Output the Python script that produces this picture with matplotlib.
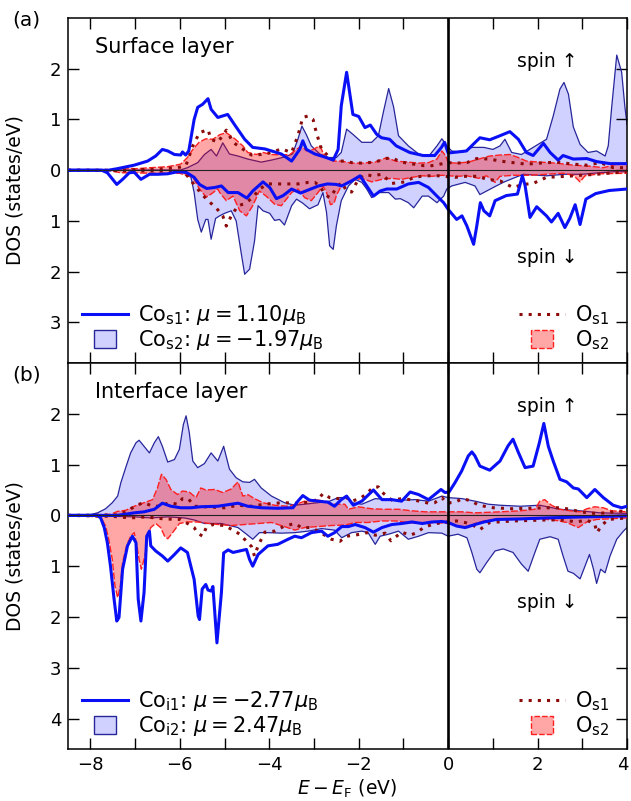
import numpy as np
import matplotlib
matplotlib.use("Agg")
import matplotlib.pyplot as plt
import matplotlib.patches as mpatches
import matplotlib.transforms as mtransforms
from matplotlib.lines import Line2D
from matplotlib.legend_handler import HandlerPatch

# ---------------- data: (E - E_F [eV], DOS [states/eV]); spin-down stored negative -------------
# Panel (a) surface layer
co1a_up = [(-8.5,0),(-7.6,0),(-7.4,0.03),(-7.02,0.10),(-6.72,0.18),(-6.54,0.28),(-6.39,0.41),(-6.27,0.38),
           (-6.12,0.31),(-5.98,0.30),(-5.94,0.36),(-5.87,0.30),(-5.8,0.38),(-5.68,1.0),(-5.6,1.24),(-5.49,1.30),
           (-5.37,1.41),(-5.3,1.2),(-5.15,1.04),(-4.93,1.1),(-4.77,0.89),(-4.55,0.61),(-4.37,0.45),(-4.1,0.42),
           (-3.95,0.38),(-3.73,0.32),(-3.5,0.18),(-3.32,0.41),(-3.25,0.58),(-3.17,0.41),(-2.98,0.32),(-2.76,0.26),
           (-2.57,0.20),(-2.46,0.41),(-2.39,1.27),(-2.27,1.93),(-2.13,1.1),(-2.0,1.06),(-1.86,0.84),(-1.74,0.89),
           (-1.6,0.71),(-1.49,0.64),(-1.31,0.61),(-1.16,0.48),(-0.86,0.35),(-0.56,0.29),(-0.3,0.29),(-0.15,0.45),
           (-0.08,0.55),(0.0,0.34),(0.11,0.35),(0.41,0.38),(0.71,0.64),(0.93,0.6),(1.16,0.68),(1.38,0.76),
           (1.57,0.61),(1.75,0.35),(1.9,0.29),(2.13,0.53),(2.28,0.35),(2.46,0.2),(2.57,0.29),(2.8,0.22),
           (3.1,0.23),(3.32,0.17),(3.62,0.13),(4.0,0.13)]
co1a_dn = [(-8.5,0),(-7.75,0),(-7.62,-0.05),(-7.41,-0.28),(-7.28,-0.18),(-7.13,-0.05),(-7.02,-0.04),(-6.87,-0.18),
           (-6.68,-0.08),(-6.5,-0.08),(-6.27,-0.07),(-6.05,-0.03),(-5.86,-0.04),(-5.68,-0.14),(-5.56,-0.28),
           (-5.4,-0.36),(-5.22,-0.34),(-5.07,-0.31),(-4.92,-0.44),(-4.7,-0.44),(-4.5,-0.55),(-4.37,-0.41),
           (-4.14,-0.23),(-3.99,-0.34),(-3.84,-0.56),(-3.69,-0.5),(-3.5,-0.37),(-3.3,-0.45),(-3.1,-0.38),
           (-2.9,-0.31),(-2.7,-0.27),(-2.5,-0.28),(-2.38,-0.31),(-2.16,-0.21),(-1.97,-0.11),(-1.82,-0.31),
           (-1.67,-0.51),(-1.52,-0.41),(-1.37,-0.37),(-1.15,-0.37),(-0.89,-0.27),(-0.66,-0.24),(-0.44,-0.34),
           (-0.25,-0.51),(-0.1,-0.64),(0.0,-0.77),(0.19,-0.97),(0.31,-0.90),(0.42,-1.10),(0.57,-1.46),(0.64,-1.1),
           (0.72,-0.64),(0.8,-0.8),(0.93,-0.9),(1.05,-0.6),(1.3,-0.5),(1.55,-0.47),(1.66,-0.11),(1.72,-0.3),
           (1.83,-0.93),(1.98,-0.72),(2.2,-0.9),(2.31,-1.02),(2.46,-0.85),(2.61,-1.13),(2.72,-0.95),(2.84,-0.68),
           (2.95,-1.07),(3.08,-0.57),(3.3,-0.46),(3.6,-0.4),(4.0,-0.37)]
co2a_up = [(-8.5,0),(-6.0,0.0),(-5.83,0.05),(-5.6,0.15),(-5.45,0.31),(-5.3,0.41),(-5.18,0.28),(-5.04,0.54),
           (-4.89,0.32),(-4.7,0.28),(-4.48,0.22),(-4.18,0.16),(-3.95,0.20),(-3.66,0.26),(-3.48,0.32),(-3.36,0.61),
           (-3.27,0.87),(-3.17,0.70),(-3.06,0.48),(-2.87,0.32),(-2.68,0.25),(-2.5,0.25),(-2.39,0.35),(-2.27,0.81),
           (-2.12,0.70),(-1.93,0.55),(-1.71,0.55),(-1.56,0.68),(-1.45,1.14),(-1.33,1.61),(-1.22,1.25),(-1.11,0.68),
           (-0.89,0.48),(-0.66,0.32),(-0.44,0.27),(-0.25,0.48),(-0.14,0.62),(-0.03,0.48),(0.08,0.38),(0.31,0.35),
           (0.53,0.45),(0.8,0.45),(1.0,0.41),(1.16,0.48),(1.27,0.61),(1.42,0.35),(1.64,0.31),(1.9,0.45),(2.2,0.61),
           (2.35,1.07),(2.5,1.60),(2.59,1.73),(2.69,1.5),(2.8,0.85),(2.95,0.51),(3.13,0.35),(3.32,0.38),(3.51,0.28),
           (3.58,0.48),(3.66,1.27),(3.77,2.27),(3.88,1.93),(3.95,1.27),(4.0,0.9)]
co2a_dn = [(-8.5,0),(-6.0,0),(-5.75,-0.14),(-5.68,-0.44),(-5.6,-0.97),(-5.52,-1.22),(-5.42,-0.97),(-5.37,-0.97),
           (-5.3,-1.36),(-5.2,-0.95),(-5.11,-0.9),(-5.0,-0.85),(-4.85,-0.8),(-4.74,-1.0),(-4.63,-1.62),(-4.55,-2.05),
           (-4.44,-1.95),(-4.33,-1.4),(-4.25,-0.7),(-4.14,-0.8),(-3.99,-0.85),(-3.88,-0.99),(-3.77,-0.97),
           (-3.66,-1.08),(-3.5,-0.7),(-3.39,-0.57),(-3.25,-0.65),(-3.1,-0.76),(-2.91,-0.68),(-2.8,-0.44),
           (-2.72,-0.83),(-2.65,-1.49),(-2.57,-1.56),(-2.5,-1.1),(-2.39,-0.6),(-2.23,-0.31),(-2.08,-0.18),
           (-1.93,-0.24),(-1.82,-0.37),(-1.71,-0.54),(-1.56,-0.44),(-1.33,-0.44),(-1.18,-0.57),(-1.07,-0.56),
           (-0.89,-0.64),(-0.77,-0.74),(-0.58,-0.51),(-0.44,-0.51),(-0.25,-0.64),(-0.1,-0.51),(-0.03,-0.37),
           (0.08,-0.31),(0.38,-0.24),(0.6,-0.31),(0.71,-0.48),(0.86,-0.41),(1.01,-0.34),(1.23,-0.24),(1.45,-0.16),
           (1.68,-0.08),(2.2,-0.11),(2.6,-0.08),(3.0,-0.08),(3.25,-0.06),(3.7,-0.03),(4.0,-0.03)]
o1a_up = [(-8.5,0),(-7.5,0.0),(-6.5,0.02),(-6.0,0.06),(-5.86,0.1),(-5.71,0.48),(-5.56,0.74),(-5.37,0.8),
          (-5.3,0.61),(-5.15,0.55),(-4.96,0.79),(-4.81,0.55),(-4.63,0.44),(-4.4,0.30),(-4.18,0.31),(-3.95,0.35),
          (-3.73,0.42),(-3.5,0.35),(-3.36,0.68),(-3.25,1.04),(-3.13,1.07),(-3.02,1.0),(-2.95,0.75),(-2.83,0.41),
          (-2.68,0.28),(-2.5,0.18),(-2.27,0.18),(-2.16,0.15),(-1.93,0.14),(-1.63,0.16),(-1.41,0.23),(-1.26,0.24),
          (-1.04,0.16),(-0.77,0.12),(-0.55,0.09),(-0.36,0.09),(-0.18,0.12),(0.0,0.15),(0.19,0.14),(0.42,0.15),
          (0.64,0.23),(0.93,0.22),(1.16,0.18),(1.45,0.15),(1.75,0.12),(2.05,0.14),(2.42,0.16),(2.8,0.12),
          (3.1,0.10),(3.4,0.15),(3.69,0.05),(4.0,0.05)]
o1a_dn = [(-8.5,0),(-6.0,-0.02),(-5.86,-0.08),(-5.63,-0.34),(-5.48,-0.5),(-5.33,-0.63),(-5.18,-0.75),(-5.04,-0.9),
          (-4.96,-1.1),(-4.85,-0.9),(-4.7,-0.7),(-4.55,-0.66),(-4.37,-0.54),(-4.22,-0.37),(-4.03,-0.27),
          (-3.8,-0.27),(-3.58,-0.27),(-3.36,-0.27),(-3.13,-0.24),(-2.98,-0.24),(-2.87,-0.31),(-2.76,-0.47),
          (-2.65,-0.54),(-2.46,-0.31),(-2.38,-0.24),(-2.27,-0.41),(-2.16,-0.43),(-2.01,-0.18),(-1.86,-0.08),
          (-1.71,-0.11),(-1.48,-0.08),(-1.26,-0.26),(-0.96,-0.23),(-0.77,-0.14),(-0.51,-0.11),(-0.21,-0.11),
          (0.15,-0.14),(0.38,-0.12),(0.68,-0.12),(0.86,-0.18),(1.16,-0.21),(1.45,-0.34),(1.68,-0.28),(1.9,-0.26),
          (2.2,-0.14),(2.65,-0.12),(2.95,-0.10),(3.32,-0.08),(3.69,-0.05),(4.0,-0.03)]
o2a_up = [(-8.5,0),(-7.55,0.0),(-7.32,0.05),(-7.0,0.03),(-6.65,0.05),(-6.27,0.07),(-5.98,0.12),(-5.83,0.25),
          (-5.71,0.41),(-5.57,0.55),(-5.42,0.62),(-5.26,0.61),(-5.11,0.70),(-4.96,0.74),(-4.77,0.62),(-4.59,0.48),
          (-4.48,0.35),(-4.29,0.31),(-4.14,0.35),(-3.95,0.31),(-3.73,0.3),(-3.54,0.31),(-3.39,0.41),(-3.28,0.48),
          (-3.17,0.38),(-3.02,0.41),(-2.87,0.48),(-2.76,0.28),(-2.57,0.18),(-2.39,0.18),(-2.16,0.14),(-1.93,0.14),
          (-1.63,0.16),(-1.37,0.25),(-1.18,0.18),(-0.89,0.16),(-0.66,0.14),(-0.44,0.15),(-0.25,0.22),(-0.14,0.38),
          (-0.05,0.28),(0.0,0.15),(0.19,0.14),(0.45,0.16),(0.68,0.22),(0.93,0.28),(1.16,0.3),(1.38,0.31),
          (1.57,0.25),(1.75,0.18),(2.05,0.16),(2.42,0.14),(2.8,0.10),(3.17,0.08),(3.47,0.05),(3.77,0.12),(4.0,0.14)]
o2a_dn = [(-8.5,0),(-7.55,-0.01),(-7.32,-0.05),(-6.5,-0.06),(-6.0,-0.06),(-5.83,-0.11),(-5.71,-0.14),(-5.56,-0.37),
          (-5.41,-0.53),(-5.3,-0.47),(-5.15,-0.37),(-5.11,-0.44),(-4.96,-0.6),(-4.81,-0.51),(-4.66,-0.80),
          (-4.51,-0.90),(-4.37,-0.7),(-4.22,-0.41),(-4.07,-0.51),(-3.88,-0.67),(-3.73,-0.7),(-3.5,-0.44),
          (-3.36,-0.37),(-3.21,-0.54),(-3.06,-0.6),(-2.91,-0.44),(-2.8,-0.31),(-2.72,-0.44),(-2.63,-0.68),
          (-2.55,-0.65),(-2.5,-0.5),(-2.39,-0.31),(-2.16,-0.21),(-1.93,-0.16),(-1.71,-0.23),(-1.48,-0.18),
          (-1.26,-0.16),(-1.04,-0.18),(-0.81,-0.14),(-0.58,-0.11),(-0.36,-0.12),(-0.14,-0.10),(0.19,-0.12),
          (0.42,-0.11),(0.68,-0.16),(0.86,-0.11),(1.05,-0.24),(1.16,-0.12),(1.45,-0.10),(1.83,-0.10),(2.2,-0.08),
          (2.57,-0.06),(2.8,-0.1),(2.95,-0.23),(3.06,-0.11),(3.4,-0.07),(4.0,-0.06)]

# Panel (b) interface layer
co1b_up = [(-8.5,0),(-7.4,0.0),(-7.24,0.02),(-7.02,0.05),(-6.8,0.07),(-6.57,0.12),(-6.39,0.24),(-6.2,0.18),
           (-5.98,0.15),(-5.75,0.15),(-5.53,0.17),(-5.15,0.18),(-4.7,0.24),(-4.48,0.18),(-4.18,0.15),(-3.81,0.14),
           (-3.47,0.15),(-3.36,0.28),(-3.25,0.39),(-3.1,0.30),(-2.91,0.28),(-2.69,0.26),(-2.54,0.18),(-2.39,0.31),
           (-2.27,0.38),(-2.12,0.2),(-1.93,0.28),(-1.67,0.5),(-1.48,0.31),(-1.26,0.31),(-1.04,0.28),(-0.85,0.46),
           (-0.66,0.41),(-0.44,0.31),(-0.3,0.41),(-0.16,0.51),(-0.07,0.45),(0.02,0.46),(0.15,0.64),(0.3,0.87),
           (0.45,1.17),(0.53,1.25),(0.6,1.17),(0.71,0.97),(0.93,0.89),(1.16,1.07),(1.34,1.37),(1.45,1.5),
           (1.57,1.24),(1.72,0.94),(1.9,0.97),(2.04,1.43),(2.14,1.81),(2.24,1.36),(2.35,1.07),(2.5,0.71),
           (2.65,0.66),(2.8,0.54),(2.91,0.52),(3.1,0.35),(3.28,0.51),(3.47,0.35),(3.69,0.2),(3.88,0.15),(4.0,0.18)]
co1b_dn = [(-8.5,0),(-7.84,0),(-7.77,-0.05),(-7.69,-0.24),(-7.62,-0.54),(-7.55,-1.0),(-7.47,-1.65),(-7.41,-2.08),
           (-7.36,-2.01),(-7.28,-1.06),(-7.17,-0.6),(-7.06,-0.41),(-6.98,-0.54),(-6.93,-1.65),(-6.87,-2.08),
           (-6.8,-1.52),(-6.74,-0.41),(-6.68,-0.31),(-6.65,-0.6),(-6.54,-0.7),(-6.39,-0.8),(-6.27,-0.9),
           (-6.12,-0.77),(-5.98,-0.64),(-5.83,-0.73),(-5.68,-1.26),(-5.59,-1.98),(-5.56,-2.05),(-5.5,-1.45),
           (-5.42,-1.36),(-5.37,-1.47),(-5.3,-1.49),(-5.26,-1.4),(-5.17,-2.51),(-5.07,-1.52),(-5.02,-0.74),
           (-4.92,-0.68),(-4.81,-0.73),(-4.66,-0.7),(-4.51,-0.67),(-4.44,-0.87),(-4.37,-1.0),(-4.25,-0.77),
           (-4.03,-0.6),(-3.81,-0.57),(-3.58,-0.47),(-3.43,-0.41),(-3.28,-0.44),(-3.06,-0.34),(-2.83,-0.31),
           (-2.69,-0.41),(-2.54,-0.34),(-2.38,-0.22),(-2.23,-0.22),(-2.08,-0.18),(-1.86,-0.24),(-1.67,-0.33),
           (-1.48,-0.24),(-1.26,-0.18),(-1.04,-0.16),(-0.81,-0.13),(-0.58,-0.16),(-0.36,-0.13),(-0.14,-0.12),
           (0.0,-0.14),(0.19,-0.21),(0.38,-0.24),(0.6,-0.18),(0.8,-0.13),(1.08,-0.08),(1.6,-0.07),(2.2,-0.05),
           (3.0,-0.03),(4.0,-0.01)]
co2b_up = [(-8.5,0),(-8.07,0.0),(-7.84,0.05),(-7.66,0.13),(-7.51,0.25),(-7.39,0.38),(-7.32,0.64),(-7.21,0.94),
           (-7.1,1.23),(-6.98,1.43),(-6.91,1.48),(-6.8,1.36),(-6.68,1.23),(-6.57,1.43),(-6.48,1.55),(-6.39,1.36),
           (-6.27,1.05),(-6.12,1.10),(-6.01,1.3),(-5.92,1.79),(-5.86,1.96),(-5.79,1.64),(-5.71,1.07),(-5.6,0.94),
           (-5.45,1.02),(-5.3,1.23),(-5.15,1.07),(-5.02,1.36),(-4.89,0.91),(-4.74,0.74),(-4.59,0.66),(-4.44,0.65),
           (-4.33,0.71),(-4.18,0.54),(-3.95,0.38),(-3.66,0.25),(-3.43,0.2),(-3.21,0.22),(-2.91,0.25),(-2.65,0.28),
           (-2.46,0.35),(-2.27,0.35),(-2.16,0.25),(-1.93,0.22),(-1.63,0.33),(-1.33,0.31),(-1.04,0.30),(-0.74,0.31),
           (-0.44,0.28),(-0.14,0.38),(0.0,0.35),(0.31,0.33),(0.6,0.28),(0.9,0.22),(1.16,0.2),(1.61,0.18),
           (2.05,0.2),(2.5,0.12),(2.95,0.09),(3.4,0.05),(4.0,0.04)]
co2b_dn = [(-8.5,0),(-7.4,-0.02),(-7.0,-0.03),(-6.65,-0.05),(-6.27,-0.03),(-5.9,-0.05),(-5.68,-0.09),(-5.45,-0.16),
           (-5.07,-0.16),(-4.7,-0.24),(-4.51,-0.37),(-4.37,-0.47),(-4.22,-0.34),(-4.03,-0.34),(-3.73,-0.35),
           (-3.43,-0.34),(-3.13,-0.31),(-2.83,-0.26),(-2.54,-0.29),(-2.38,-0.44),(-2.16,-0.34),(-1.93,-0.31),
           (-1.79,-0.34),(-1.63,-0.57),(-1.52,-0.41),(-1.33,-0.37),(-1.11,-0.31),(-0.89,-0.47),(-0.66,-0.41),
           (-0.44,-0.34),(-0.14,-0.35),(0.0,-0.41),(0.22,-0.37),(0.42,-0.44),(0.53,-0.73),(0.64,-1.06),(0.71,-1.13),
           (0.86,-0.93),(1.05,-0.70),(1.23,-0.66),(1.45,-0.73),(1.64,-0.96),(1.79,-1.10),(1.94,-0.73),(2.05,-0.47),
           (2.28,-0.42),(2.46,-0.47),(2.57,-0.8),(2.68,-1.1),(2.8,-1.14),(2.95,-1.25),(3.06,-1.0),(3.16,-0.77),
           (3.25,-1.06),(3.32,-1.34),(3.41,-1.06),(3.51,-1.13),(3.62,-0.8),(3.77,-0.47),(3.92,-0.31),(4.0,-0.24)]
o1b_up = [(-8.5,0),(-7.4,0.01),(-7.17,0.08),(-6.98,0.2),(-6.8,0.25),(-6.61,0.18),(-6.43,0.18),(-6.24,0.25),
          (-6.05,0.22),(-5.94,0.33),(-5.81,0.33),(-5.68,0.18),(-5.45,0.17),(-5.0,0.15),(-4.7,0.2),(-4.4,0.18),
          (-4.1,0.22),(-3.88,0.24),(-3.66,0.25),(-3.43,0.24),(-3.21,0.25),(-3.06,0.28),(-2.91,0.31),(-2.8,0.43),
          (-2.65,0.35),(-2.46,0.33),(-2.27,0.35),(-2.16,0.28),(-1.97,0.33),(-1.82,0.43),(-1.67,0.56),(-1.56,0.56),
          (-1.47,0.45),(-1.26,0.30),(-1.04,0.33),(-0.85,0.31),(-0.63,0.28),(-0.44,0.24),(-0.3,0.25),(-0.14,0.35),
          (-0.03,0.24),(0.15,0.26),(0.33,0.33),(0.53,0.28),(0.68,0.20),(1.01,0.15),(1.45,0.13),(2.2,0.15),
          (2.5,0.15),(2.73,0.12),(2.95,0.07),(3.25,0.04),(3.6,0.05),(3.77,0.09),(4.0,0.07)]
o1b_dn = [(-8.5,0),(-7.5,-0.02),(-7.1,-0.05),(-6.76,-0.03),(-6.35,-0.07),(-5.98,-0.08),(-5.79,-0.18),(-5.68,-0.24),
          (-5.6,-0.35),(-5.49,-0.41),(-5.41,-0.24),(-5.26,-0.18),(-5.0,-0.2),(-4.81,-0.29),(-4.66,-0.37),
          (-4.51,-0.51),(-4.4,-0.61),(-4.33,-0.80),(-4.25,-0.6),(-4.1,-0.33),(-3.88,-0.31),(-3.66,-0.21),
          (-3.43,-0.16),(-3.28,-0.24),(-3.06,-0.24),(-2.87,-0.33),(-2.61,-0.47),(-2.42,-0.51),(-2.27,-0.41),
          (-2.08,-0.39),(-1.82,-0.34),(-1.63,-0.39),(-1.41,-0.35),(-1.28,-0.5),(-1.04,-0.33),(-0.85,-0.39),
          (-0.7,-0.34),(-0.55,-0.24),(-0.36,-0.18),(-0.14,-0.14),(0.19,-0.11),(0.38,-0.14),(0.57,-0.2),
          (0.71,-0.28),(0.93,-0.14),(1.45,-0.11),(2.2,-0.09),(2.57,-0.09),(2.87,-0.13),(3.1,-0.09),(3.28,-0.18),
          (3.33,-0.34),(3.43,-0.2),(3.58,-0.08),(4.0,-0.05)]
o2b_up = [(-8.5,0),(-7.55,0.02),(-7.39,0.08),(-7.21,0.1),(-7.02,0.18),(-6.8,0.25),(-6.61,0.31),(-6.5,0.54),
          (-6.41,0.81),(-6.31,0.71),(-6.2,0.51),(-6.05,0.41),(-5.94,0.48),(-5.79,0.46),(-5.64,0.35),(-5.53,0.54),
          (-5.42,0.5),(-5.22,0.51),(-5.04,0.45),(-4.85,0.52),(-4.7,0.66),(-4.59,0.38),(-4.48,0.41),(-4.33,0.33),
          (-4.14,0.25),(-3.88,0.2),(-3.58,0.18),(-3.39,0.22),(-3.21,0.28),(-2.98,0.31),(-2.76,0.28),(-2.57,0.22),
          (-2.31,0.22),(-2.23,0.12),(-2.01,0.17),(-1.71,0.13),(-1.41,0.12),(-1.11,0.12),(-0.81,0.09),(-0.51,0.07),
          (-0.21,0.07),(0.31,0.07),(0.6,0.05),(1.16,0.07),(1.61,0.09),(1.94,0.12),(2.05,0.28),(2.16,0.31),
          (2.31,0.2),(2.5,0.12),(2.73,0.09),(2.95,0.07),(3.1,0.13),(3.28,0.17),(3.47,0.15),(3.66,0.09),(4.0,0.07)]
o2b_dn = [(-8.5,0),(-7.77,-0.03),(-7.66,-0.21),(-7.59,-0.47),(-7.51,-0.87),(-7.45,-1.39),(-7.39,-1.62),
          (-7.33,-1.39),(-7.28,-0.93),(-7.19,-0.6),(-7.1,-0.41),(-7.02,-0.34),(-6.96,-0.6),(-6.91,-0.87),
          (-6.86,-1.06),(-6.78,-0.80),(-6.72,-0.41),(-6.65,-0.24),(-6.54,-0.16),(-6.43,-0.24),(-6.34,-0.41),
          (-6.27,-0.46),(-6.16,-0.34),(-6.01,-0.16),(-5.83,-0.13),(-5.6,-0.13),(-5.15,-0.18),(-4.85,-0.2),
          (-4.55,-0.18),(-4.25,-0.16),(-3.95,-0.14),(-3.66,-0.22),(-3.43,-0.29),(-3.21,-0.24),(-2.91,-0.22),
          (-2.61,-0.2),(-2.3,-0.19),(-2.08,-0.14),(-1.79,-0.14),(-1.48,-0.11),(-1.18,-0.11),(-0.89,-0.14),
          (-0.58,-0.16),(-0.3,-0.14),(0.0,-0.16),(0.22,-0.21),(0.45,-0.24),(0.6,-0.16),(0.8,-0.11),(1.16,-0.08),
          (1.61,-0.08),(2.05,-0.07),(2.35,-0.09),(2.65,-0.14),(2.91,-0.24),(3.1,-0.13),(3.32,-0.08),(4.0,-0.05)]

labels_a = [r"Co$_{\mathrm{s1}}$: $\mu = 1.10\mu_{\mathrm{B}}$", r"Co$_{\mathrm{s2}}$: $\mu = -1.97\mu_{\mathrm{B}}$",
            r"O$_{\mathrm{s1}}$", r"O$_{\mathrm{s2}}$"]
labels_b = [r"Co$_{\mathrm{i1}}$: $\mu = -2.77\mu_{\mathrm{B}}$", r"Co$_{\mathrm{i2}}$: $\mu = 2.47\mu_{\mathrm{B}}$",
            r"O$_{\mathrm{s1}}$", r"O$_{\mathrm{s2}}$"]
titles = ["Surface layer", "Interface layer"]
panel_tags = ["(a)", "(b)"]
xticks = [-8, -6, -4, -2, 0, 2, 4]

# ---------------- styles ----------------
C_CO1 = "#0a10f5"
C_CO2_FACE = (0.0, 0.0, 1.0, 0.18)
C_CO2_EDGE = "#26269a"
C_O1 = "#8b0a0a"
C_O2_FACE = (1.0, 0.0, 0.0, 0.35)
C_O2_EDGE = "#ff2020"
FS_TICK = 13
FS_LAB = 13.5
FS_TXT = 15
O1_STYLE = (0, (1, 2.0))

plt.rcParams["font.family"] = ["DejaVu Sans"]
plt.rcParams["mathtext.fontset"] = "dejavusans"

fig = plt.figure(figsize=(6.31, 8.01), dpi=100)
L, W = 0.1078, 0.8859
ax_a = fig.add_axes([L, 0.5468, W, 0.4307])
ax_b = fig.add_axes([L, 0.0649, W, 0.4819])


def arr(pairs):
    a = np.array(pairs, dtype=float)
    return a[:, 0], a[:, 1]


def draw(ax, co1u, co1d, co2u, co2d, o1u, o1d, o2u, o2d):
    for c in (co2u, co2d):
        e, v = arr(c)
        ax.fill_between(e, 0, v, facecolor=C_CO2_FACE, edgecolor="none", zorder=1)
        ax.plot(e, v, color=C_CO2_EDGE, lw=0.9, zorder=2)
    for c in (o2u, o2d):
        e, v = arr(c)
        ax.fill_between(e, 0, v, facecolor=C_O2_FACE, edgecolor="none", zorder=3)
        ax.plot(e, v, color=C_O2_EDGE, lw=1.0, dashes=(5, 1.5), zorder=4)
    for c in (o1u, o1d):
        e, v = arr(c)
        ax.plot(e, v, color=C_O1, lw=2.2, linestyle=O1_STYLE, zorder=5)
    for c in (co1u, co1d):
        e, v = arr(c)
        ax.plot(e, v, color=C_CO1, lw=2.2, zorder=6)
    ax.axhline(0, color="#222222", lw=0.8, zorder=7)
    ax.axvline(0, color="k", lw=1.9, zorder=8)


draw(ax_a, co1a_up, co1a_dn, co2a_up, co2a_dn, o1a_up, o1a_dn, o2a_up, o2a_dn)
draw(ax_b, co1b_up, co1b_dn, co2b_up, co2b_dn, o1b_up, o1b_dn, o2b_up, o2b_dn)

ax_a.set_ylim(-3.8, 3.0)
ax_b.set_ylim(-4.6, 3.0)
ax_a.set_yticks([-3, -2, -1, 0, 1, 2])
ax_b.set_yticks([-4, -3, -2, -1, 0, 1, 2])

for ax in (ax_a, ax_b):
    ax.set_xlim(-8.5, 4.0)
    ax.set_xticks(xticks)
    ax.set_xticks(np.arange(-8, 5, 1), minor=True)
    ax.set_yticklabels([f"{abs(t):d}" for t in ax.get_yticks().astype(int)])
    ax.tick_params(which="both", direction="in", top=True, right=True, length=8, width=1,
                   labelsize=FS_TICK, colors="k", pad=5)
    for s in ax.spines.values():
        s.set_linewidth(1.1)
    ax.set_ylabel("DOS (states/eV)", fontsize=FS_LAB)
    ax.yaxis.set_label_coords(-0.077, 0.5)

ax_a.tick_params(labelbottom=False)
ax_b.set_xticklabels([f"{t}".replace("-", "\u2212") for t in xticks])
ax_b.set_xlabel(r"$E - E_{\mathrm{F}}$ (eV)", fontsize=FS_LAB, labelpad=3)
# keep the last tick label ("4") inside the canvas
last_lab = ax_b.get_xticklabels()[-1]
last_lab.set_transform(last_lab.get_transform() +
                       mtransforms.ScaledTranslation(-3 / 72, 0, fig.dpi_scale_trans))


def square_patch(legend, orig_handle, xdescent, ydescent, width, height, fontsize):
    w, h = 1.06 * fontsize, 0.87 * fontsize
    cx, cy = -xdescent + width / 2, -ydescent + height / 2
    return mpatches.Rectangle((cx - w / 2, cy - h / 2), w, h)


hmap = {mpatches.Rectangle: HandlerPatch(patch_func=square_patch)}

for ax, labs, title, tag, fy in ((ax_a, labels_a, titles[0], panel_tags[0], 0.975),
                                 (ax_b, labels_b, titles[1], panel_tags[1], 0.532)):
    h_co1 = Line2D([], [], color=C_CO1, lw=2.2)
    h_co2 = mpatches.Rectangle((0, 0), 1, 1, facecolor=C_CO2_FACE, edgecolor=C_CO2_EDGE, lw=1.0)
    h_o1 = Line2D([], [], color=C_O1, lw=2.2, linestyle=O1_STYLE)
    h_o2 = mpatches.Rectangle((0, 0), 1, 1, facecolor=C_O2_FACE, edgecolor=C_O2_EDGE, lw=1.0,
                              linestyle=(0, (4, 1.5)))
    axh_px = ax.get_position().height * 801
    yb = 11 / axh_px
    leg1 = ax.legend([h_co1, h_co2], labs[:2], loc="lower left", bbox_to_anchor=(0.025, yb),
                     frameon=False, fontsize=FS_TXT, handlelength=2.2, handletextpad=0.5,
                     labelspacing=0.05, borderpad=0, borderaxespad=0, handler_map=hmap)
    ax.add_artist(leg1)
    ax.legend([h_o1, h_o2], labs[2:], loc="lower left", bbox_to_anchor=(0.807, yb),
              frameon=False, fontsize=FS_TXT, handlelength=2.2, handletextpad=0.5,
              labelspacing=0.05, borderpad=0, borderaxespad=0, handler_map=hmap)
    ax.text(0.048, 1 - 29 / axh_px, title, transform=ax.transAxes, fontsize=FS_TXT, va="center", ha="left")
    ax.text(1.54, 2.15, "spin \u2191", fontsize=13.5, va="center", ha="left")
    ax.text(1.54, -1.72, "spin \u2193", fontsize=13.5, va="center", ha="left")
    fig.text(0.019, fy, tag, fontsize=14.5, va="center", ha="left")

fig.savefig("out.png", dpi=100)
